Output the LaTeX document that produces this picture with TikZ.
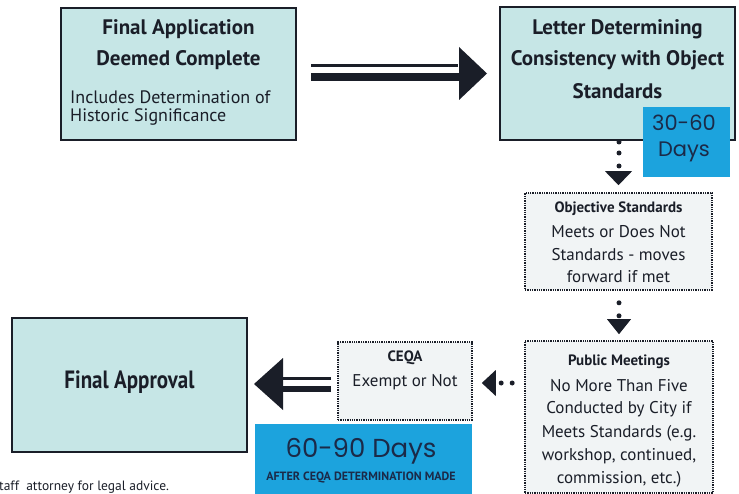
\documentclass[tikz,border=0pt]{standalone}
\usepackage{fontspec}
\setmainfont{PT Sans}
\newfontfamily\condb{PT Sans}[FakeStretch=0.84]
\newfontfamily\hand{Poppins}
\usetikzlibrary{calc}
\definecolor{boxfill}{HTML}{C6E6E6}
\definecolor{badge}{HTML}{1CA3DD}
\definecolor{dotfill}{HTML}{F1F4F5}
\definecolor{ink}{HTML}{1A1E28}
\definecolor{navy}{HTML}{1B2A48}
\tikzset{
  solidbox/.style={draw=ink, line width=2pt, fill=boxfill, inner sep=0pt},
  dotbox/.style={draw=ink, line width=1.6pt, dash pattern=on 1.3pt off 1pt, fill=dotfill, inner sep=0pt},
  badgebox/.style={fill=badge, inner sep=0pt},
  ttl/.style={font=\bfseries\fontsize{21}{25}\selectfont, text=ink, inner sep=0pt},
  sttl/.style={font=\bfseries\fontsize{15}{18}\selectfont, text=ink, inner sep=0pt},
  body/.style={font=\fontsize{17}{20}\selectfont, text=ink, inner sep=0pt},
  handtxt/.style={font=\hand\fontsize{21}{24}\selectfont, text=navy, inner sep=0pt},
  dot/.style={fill=ink, circle, minimum size=5pt, inner sep=0pt},
  head/.style={fill=ink},
}
\begin{document}
\begin{tikzpicture}[x=1pt,y=-1pt]
\useasboundingbox (0,0) rectangle (739,494);
% boxes
\node[solidbox, minimum width=235, minimum height=132] (a) at (178.5,74) {};
\node[solidbox, minimum width=235, minimum height=133] (b) at (617.5,73.5) {};
\node[dotbox, minimum width=187, minimum height=97] (o) at (618.5,241.5) {};
\node[dotbox, minimum width=188, minimum height=152] (p) at (619,417) {};
\node[dotbox, minimum width=134, minimum height=78] (c) at (405,381) {};
\node[solidbox, minimum width=235, minimum height=134] (f) at (129.5,385) {};
\node[badgebox, minimum width=87, minimum height=70] (d1) at (686.5,142) {};
\node[badgebox, minimum width=217, minimum height=72] (d2) at (363.5,460) {};
% texts box a
\node[ttl] (a1) at (178.5,29) {Final Application};
\node[ttl] (a2) at (178.5,60) {Deemed Complete};
\node[body, font=\fontsize{18}{21}\selectfont, anchor=west] (a3) at (70,97) {Includes Determination of};
\node[body, font=\fontsize{18}{21}\selectfont, anchor=west] (a4) at (70,117) {Historic Significance};
% texts box b
\node[ttl] (b1) at (617.5,29) {Letter Determining};
\node[ttl] (b2) at (617.5,60) {Consistency with Object};
\node[ttl] (b3) at (617.5,91) {Standards};
% badge 1
\node[handtxt] (d1a) at (684,123) {30-60};
\node[handtxt] (d1b) at (684,152) {Days};
% objective
\node[sttl] (o1) at (618.5,209) {Objective Standards};
\node[body] (o2) at (618.5,232) {Meets or Does Not};
\node[body] (o3) at (618.5,255) {Standards - moves};
\node[body] (o4) at (618.5,277) {forward if met};
% public meetings
\node[sttl] (p1) at (619,362) {Public Meetings};
\node[body] (p2) at (619,386) {No More Than Five};
\node[body] (p3) at (619,409) {Conducted by City if};
\node[body] (p4) at (619,433) {Meets Standards (e.g.};
\node[body] (p5) at (619,456) {workshop, continued,};
\node[body] (p6) at (619,479) {commission, etc.)};
% ceqa
\node[sttl] (c1) at (405,358) {CEQA};
\node[body] (c2) at (405,382) {Exempt or Not};
% final approval
\node[ttl, font=\condb\bfseries\fontsize{25}{29}\selectfont] (f1) at (129.5,382) {Final Approval};
% badge 2
\node[handtxt, font=\hand\fontsize{26}{30}\selectfont] (d2a) at (361,451) {60-90 Days};
\node[font=\bfseries\fontsize{12}{14}\selectfont, text=navy, inner sep=0pt] (d2b) at (361,478) {AFTER CEQA DETERMINATION MADE};
% footer
\node[font=\fontsize{13.5}{16}\selectfont, text=ink, anchor=west, inner sep=0pt] (ft) at (-1,487) {taff\ \ attorney for legal advice.};
% top double arrow
\draw[ink, line width=3pt] ($(a.east)+(14,-8.5)$) -- ($(b.west)+(-41,-8)$);
\draw[ink, line width=8pt] ($(a.east)+(14,3.5)$) -- ($(b.west)+(-38,4)$);
\fill[head] ($(b.west)+(-12,0)$) -- ++(-28,-26.5) -- ++(0,53) -- cycle;
% bottom double arrow
\draw[ink, line width=3pt] ($(c.west)+(-6,-3)$) -- ($(f.east)+(33,-7)$);
\draw[ink, line width=6pt] ($(c.west)+(-6,8)$) -- ($(f.east)+(33,4)$);
\fill[head] ($(f.east)+(6,-1)$) -- ++(29,-26) -- ++(0,52) -- cycle;
% dotted arrow b -> o
\node[dot] (u1) at ($(b.south)+(1.5,1)$) {};
\node[dot] (u2) at ($(b.south)+(1.5,12)$) {};
\node[dot] (u3) at ($(b.south)+(1.5,25)$) {};
\fill[head] ($(o.north)+(0,-7)$) -- ++(-13.5,-14) -- ++(27,0) -- cycle;
% dotted arrow o -> p
\node[dot] (v1) at ($(o.south)+(0.5,12)$) {};
\node[dot] (v2) at ($(o.south)+(0.5,25)$) {};
\fill[head] ($(p.north)+(0,-6)$) -- ++(-12,-15) -- ++(24,0) -- cycle;
% dotted arrow p -> c
\node[dot] (w1) at ($(p.west)+(-12,-34)$) {};
\node[dot] (w2) at ($(p.west)+(-23,-34)$) {};
\fill[head] ($(c.east)+(9,2)$) -- ++(14,-13) -- ++(0,26) -- cycle;
\end{tikzpicture}
\end{document}
